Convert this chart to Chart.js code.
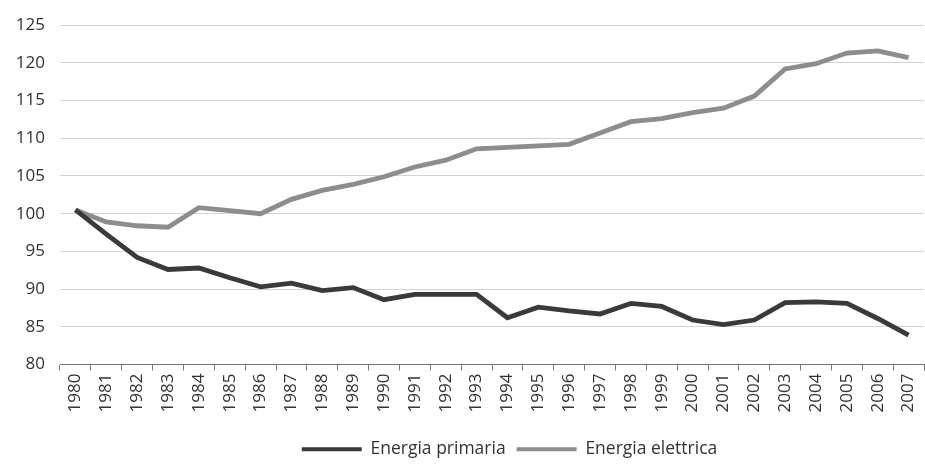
<!DOCTYPE html>
<html>
<head>
<meta charset="utf-8">
<script src="https://cdn.jsdelivr.net/npm/chart.js@4/dist/chart.umd.min.js"></script>
<style>
    body { margin: 0; overflow: hidden; background: #fff; }
    .chart-wrap { width: 932px; height: 468px; }
</style>
</head>
<body>
<div class="chart-wrap"><canvas id="energyChart"></canvas></div>
<script>
// Data (index, 1980 = 100)
const years = ['1980', '1981', '1982', '1983', '1984', '1985', '1986', '1987', '1988', '1989',
    '1990', '1991', '1992', '1993', '1994', '1995', '1996', '1997', '1998', '1999',
    '2000', '2001', '2002', '2003', '2004', '2005', '2006', '2007'];
const energiaPrimaria = [100.5, 97.3, 94.2, 92.6, 92.8, 91.5, 90.3, 90.8, 89.8, 90.2,
    88.6, 89.3, 89.3, 89.3, 86.2, 87.6, 87.1, 86.7, 88.1, 87.7,
    85.9, 85.3, 85.9, 88.2, 88.3, 88.1, 86.1, 83.9];
const energiaElettrica = [100.5, 98.9, 98.4, 98.2, 100.8, 100.4, 100.0, 101.9, 103.1, 103.9,
    104.9, 106.2, 107.1, 108.6, 108.8, 109.0, 109.2, 110.7, 112.2, 112.6,
    113.4, 114.0, 115.6, 119.2, 119.9, 121.3, 121.6, 120.7];
const yTicks = [80, 85, 90, 95, 100, 105, 110, 115, 120, 125];

const seriesNames = ['Energia primaria', 'Energia elettrica'];
const seriesColors = ['#3a3a3a', '#8d8d8d'];

// moves the legend a bit to the right, like in the printed chart
const legendShift = {
    id: 'legendShift',
    afterLayout(chart) {
        const lg = chart.legend;
        if (lg) {
            lg.left += 44;
            lg.right += 44;
        }
    }
};

const ctx = document.getElementById('energyChart').getContext('2d');
const energyChart = new Chart(ctx, {
    type: 'line',
    data: {
        labels: years,
        datasets: [
            {
                label: seriesNames[0],
                data: energiaPrimaria,
                borderColor: seriesColors[0],
                backgroundColor: seriesColors[0],
                borderWidth: 4.8,
                pointRadius: 0,
                tension: 0
            },
            {
                label: seriesNames[1],
                data: energiaElettrica,
                borderColor: seriesColors[1],
                backgroundColor: seriesColors[1],
                borderWidth: 4.8,
                pointRadius: 0,
                tension: 0
            }
        ]
    },
    plugins: [legendShift],
    options: {
        responsive: true,
        maintainAspectRatio: false,
        animation: false,
        layout: {
            padding: { top: 22, right: 1, bottom: 0, left: 0 }
        },
        plugins: {
            tooltip: { enabled: false },
            legend: {
                position: 'bottom',
                labels: {
                    boxWidth: 60,
                    boxHeight: 4,
                    padding: 11,
                    color: '#333',
                    font: { family: 'Open Sans', size: 17.5 },
                    generateLabels: function(chart) {
                        return Chart.defaults.plugins.legend.labels.generateLabels(chart)
                            .map(item => ({ ...item, lineWidth: 0 }));
                    }
                }
            }
        },
        scales: {
            x: {
                offset: true,
                grid: {
                    offset: true,
                    drawOnChartArea: false,
                    drawTicks: true,
                    tickLength: 6,
                    color: '#777'
                },
                border: { display: true, color: '#777', width: 1 },
                ticks: {
                    autoSkip: false,
                    minRotation: 90,
                    maxRotation: 90,
                    padding: 3,
                    color: '#333',
                    font: { family: 'Open Sans', size: 17 }
                },
                afterFit: function(scale) {
                    scale.height = 65;
                }
            },
            y: {
                min: 80,
                max: 125,
                afterBuildTicks: function(scale) {
                    scale.ticks = yTicks.map(v => ({ value: v }));
                },
                grid: {
                    color: '#d3d3d3',
                    lineWidth: 1,
                    drawTicks: false
                },
                border: { display: false },
                ticks: {
                    padding: 15,
                    color: '#333',
                    font: { family: 'Open Sans', size: 17 }
                },
                afterFit: function(scale) {
                    scale.width = 60;
                }
            }
        }
    }
});
</script>
</body>
</html>
